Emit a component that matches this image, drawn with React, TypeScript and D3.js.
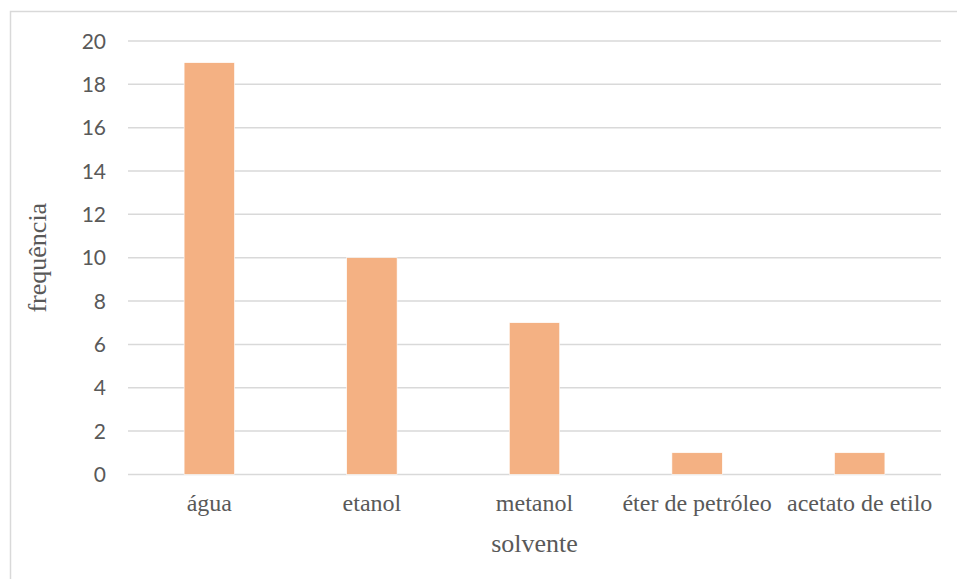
import React from "react";
import * as d3 from "d3";

const categories = ["água", "etanol", "metanol", "éter de petróleo", "acetato de etilo"];
const frequencies = [19, 10, 7, 1, 1];
const yTicks = [0, 2, 4, 6, 8, 10, 12, 14, 16, 18, 20];
const xTitle = "solvente";
const yTitle = "frequência";

const W = 957;
const H = 579;
const plot = { left: 128, right: 941, top: 41, bottom: 474.4 };

export default function App() {
  const x = d3
    .scaleBand<string>()
    .domain(categories)
    .range([plot.left, plot.right])
    .paddingInner(0.69)
    .paddingOuter(0.345);
  const y = d3.scaleLinear().domain([0, 20]).range([plot.bottom, plot.top]);

  const sans = "Lato, 'Open Sans', 'Liberation Sans', sans-serif";
  const serif = "'Liberation Serif', 'DejaVu Serif', serif";

  return (
    <svg
      width={W}
      height={H}
      style={{ position: "absolute", left: 0, top: 0, background: "#fff" }}
    >
      <rect x={10.5} y={11.5} width={W + 20} height={H + 20} fill="#fff" stroke="#D9D9D9" strokeWidth={1.5} />
      {yTicks.map((t) => (
        <g key={t}>
          <line
            x1={plot.left}
            x2={plot.right}
            y1={y(t)}
            y2={y(t)}
            stroke="#D9D9D9"
            strokeWidth={1.5}
          />
          <text
            x={106}
            y={y(t)}
            dy="0.36em"
            textAnchor="end"
            fontFamily={sans}
            fontSize={21}
            fill="#595959"
          >
            {t}
          </text>
        </g>
      ))}
      {categories.map((c, i) => (
        <rect
          key={c}
          x={x(c)}
          y={y(frequencies[i])}
          width={x.bandwidth()}
          height={y(0) - y(frequencies[i])}
          fill="#F4B183"
          stroke="#fff"
          strokeWidth={0.6}
        />
      ))}
      {categories.map((c) => (
        <text
          key={c}
          x={(x(c) as number) + x.bandwidth() / 2}
          y={511}
          textAnchor="middle"
          fontFamily={serif}
          fontSize={24}
          fill="#595959"
        >
          {c}
        </text>
      ))}
      <text
        x={(plot.left + plot.right) / 2}
        y={552}
        textAnchor="middle"
        fontFamily={serif}
        fontSize={26}
        fill="#595959"
      >
        {xTitle}
      </text>
      <text
        transform={`translate(46, ${(plot.top + plot.bottom) / 2}) rotate(-90)`}
        textAnchor="middle"
        fontFamily={serif}
        fontSize={26}
        fill="#595959"
      >
        {yTitle}
      </text>
    </svg>
  );
}
